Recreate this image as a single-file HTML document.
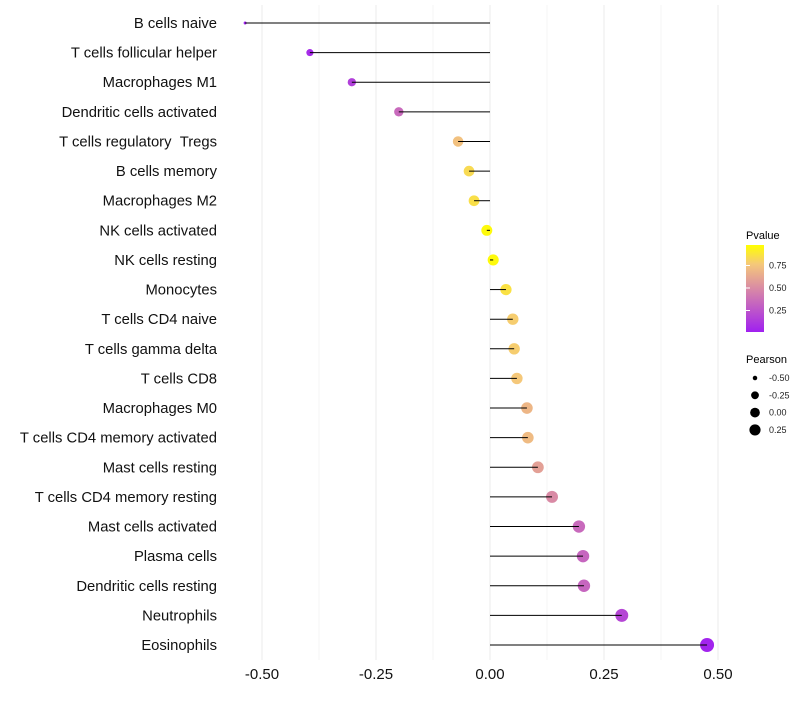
<!DOCTYPE html>
<html><head><meta charset="utf-8"><style>
body{margin:0;background:#fff;}
svg text{font-family:"Liberation Sans",sans-serif;}
</style></head><body>
<svg id="chart" width="800" height="700" xmlns="http://www.w3.org/2000/svg">
<defs><linearGradient id="pg" x1="0" y1="1" x2="0" y2="0">
<stop offset="0" stop-color="#a020f0"/><stop offset="0.5" stop-color="#d98aa5"/><stop offset="0.78" stop-color="#f5c87a"/><stop offset="1" stop-color="#ffff00"/></linearGradient></defs>
<g id="grid"></g><g id="marks"></g><g id="labels"></g>
<text x="746" y="239" font-size="11">Pvalue</text>
<rect x="746" y="245" width="18" height="87" fill="url(#pg)"/>
<text x="746" y="363" font-size="11">Pearson</text>
<g id="legend"></g>
</svg>
<script>
const categories=["B cells naive","T cells follicular helper","Macrophages M1","Dendritic cells activated","T cells regulatory\u00a0\u00a0Tregs","B cells memory","Macrophages M2","NK cells activated","NK cells resting","Monocytes","T cells CD4 naive","T cells gamma delta","T cells CD8","Macrophages M0","T cells CD4 memory activated","Mast cells resting","T cells CD4 memory resting","Mast cells activated","Plasma cells","Dendritic cells resting","Neutrophils","Eosinophils"];
const pearson=[-0.537,-0.395,-0.303,-0.2,-0.07,-0.046,-0.035,-0.007,0.007,0.035,0.05,0.053,0.059,0.081,0.083,0.105,0.136,0.195,0.204,0.206,0.289,0.476];
const pvalues=[0.0,0.05,0.15,0.35,0.75,0.85,0.87,0.98,0.98,0.88,0.8,0.8,0.78,0.7,0.72,0.6,0.5,0.35,0.33,0.33,0.18,0.02];
const xTicks=[-0.5,-0.25,0,0.25,0.5];
const xTickLabels=["-0.50","-0.25","0.00","0.25","0.50"];
const pTicks=[0.25,0.5,0.75];
const pTickLabels=["0.25","0.50","0.75"];
const sizeBreaks=[-0.5,-0.25,0,0.25];
const sizeLabels=["-0.50","-0.25","0.00","0.25"];
const NS="http://www.w3.org/2000/svg";
const x=v=>490+v*456;
const y=i=>23+i*(645-23)/(categories.length-1);
const pmin=Math.min(...pearson),pmax=Math.max(...pearson);
const r=v=>1.5+5.5*Math.sqrt(Math.max(0,(v-pmin)/(pmax-pmin)));
const py=p=>333-p*90;
function col(p){const s=[[0,[160,32,240]],[0.5,[217,138,165]],[0.78,[245,200,122]],[1,[255,255,0]]];
for(let i=0;i<s.length-1;i++){if(p<=s[i+1][0]){const t=(p-s[i][0])/(s[i+1][0]-s[i][0]);return 'rgb('+s[i][1].map((c,k)=>Math.round(c+t*(s[i+1][1][k]-c))).join(',')+')';}}return 'rgb(255,255,0)';}
function mk(tag,at,parent,txt){const e=document.createElementNS(NS,tag);for(const k in at)e.setAttribute(k,at[k]);if(txt!==undefined)e.textContent=txt;document.getElementById(parent).appendChild(e);return e;}
for(let i=0;i<xTicks.length;i++){
 let g=mk('line',{x1:x(xTicks[i]),x2:x(xTicks[i]),y1:5,y2:660,stroke:'#ebebeb','stroke-width':1},'grid');
 
 
 if(i<xTicks.length-1){let m=mk('line',{x1:x((xTicks[i]+xTicks[i+1])/2),x2:x((xTicks[i]+xTicks[i+1])/2),y1:5,y2:660,stroke:'#f5f5f5','stroke-width':1},'grid');
 
 }
 let t=mk('text',{x:x(xTicks[i]),y:679,'font-size':15,'text-anchor':'middle',fill:'#111'},'labels',xTickLabels[i]);
 
 
}
for(let i=0;i<categories.length;i++){
 let c=mk('circle',{cx:x(pearson[i]),cy:y(i),r:r(pearson[i]),fill:col(pvalues[i])},'marks');
 
 
 let s=mk('line',{x1:x(0),x2:x(pearson[i]),y1:y(i),y2:y(i),stroke:'#000','stroke-width':1},'marks');
 
 
 let t=mk('text',{x:217,y:y(i)+5,'font-size':14.8,'text-anchor':'end',fill:'#111'},'labels',categories[i]);
 
 
}
for(let i=0;i<pTicks.length;i++){
 let tk=mk('line',{x1:746,x2:750,y1:py(pTicks[i]),y2:py(pTicks[i]),stroke:'#fff','stroke-width':1},'legend');
 
 
 let t=mk('text',{x:769,y:py(pTicks[i])+3,'font-size':9,fill:'#222'},'legend',pTickLabels[i]);
 
 
}
for(let i=0;i<sizeBreaks.length;i++){
 const yy=378+i*17.3;
 let c=mk('circle',{cx:755,cy:yy,r:r(sizeBreaks[i])*0.88,fill:'#000'},'legend');
 
 
 let t=mk('text',{x:769,y:yy+3,'font-size':9,fill:'#222'},'legend',sizeLabels[i]);
 
 
}
</script>
</body></html>
